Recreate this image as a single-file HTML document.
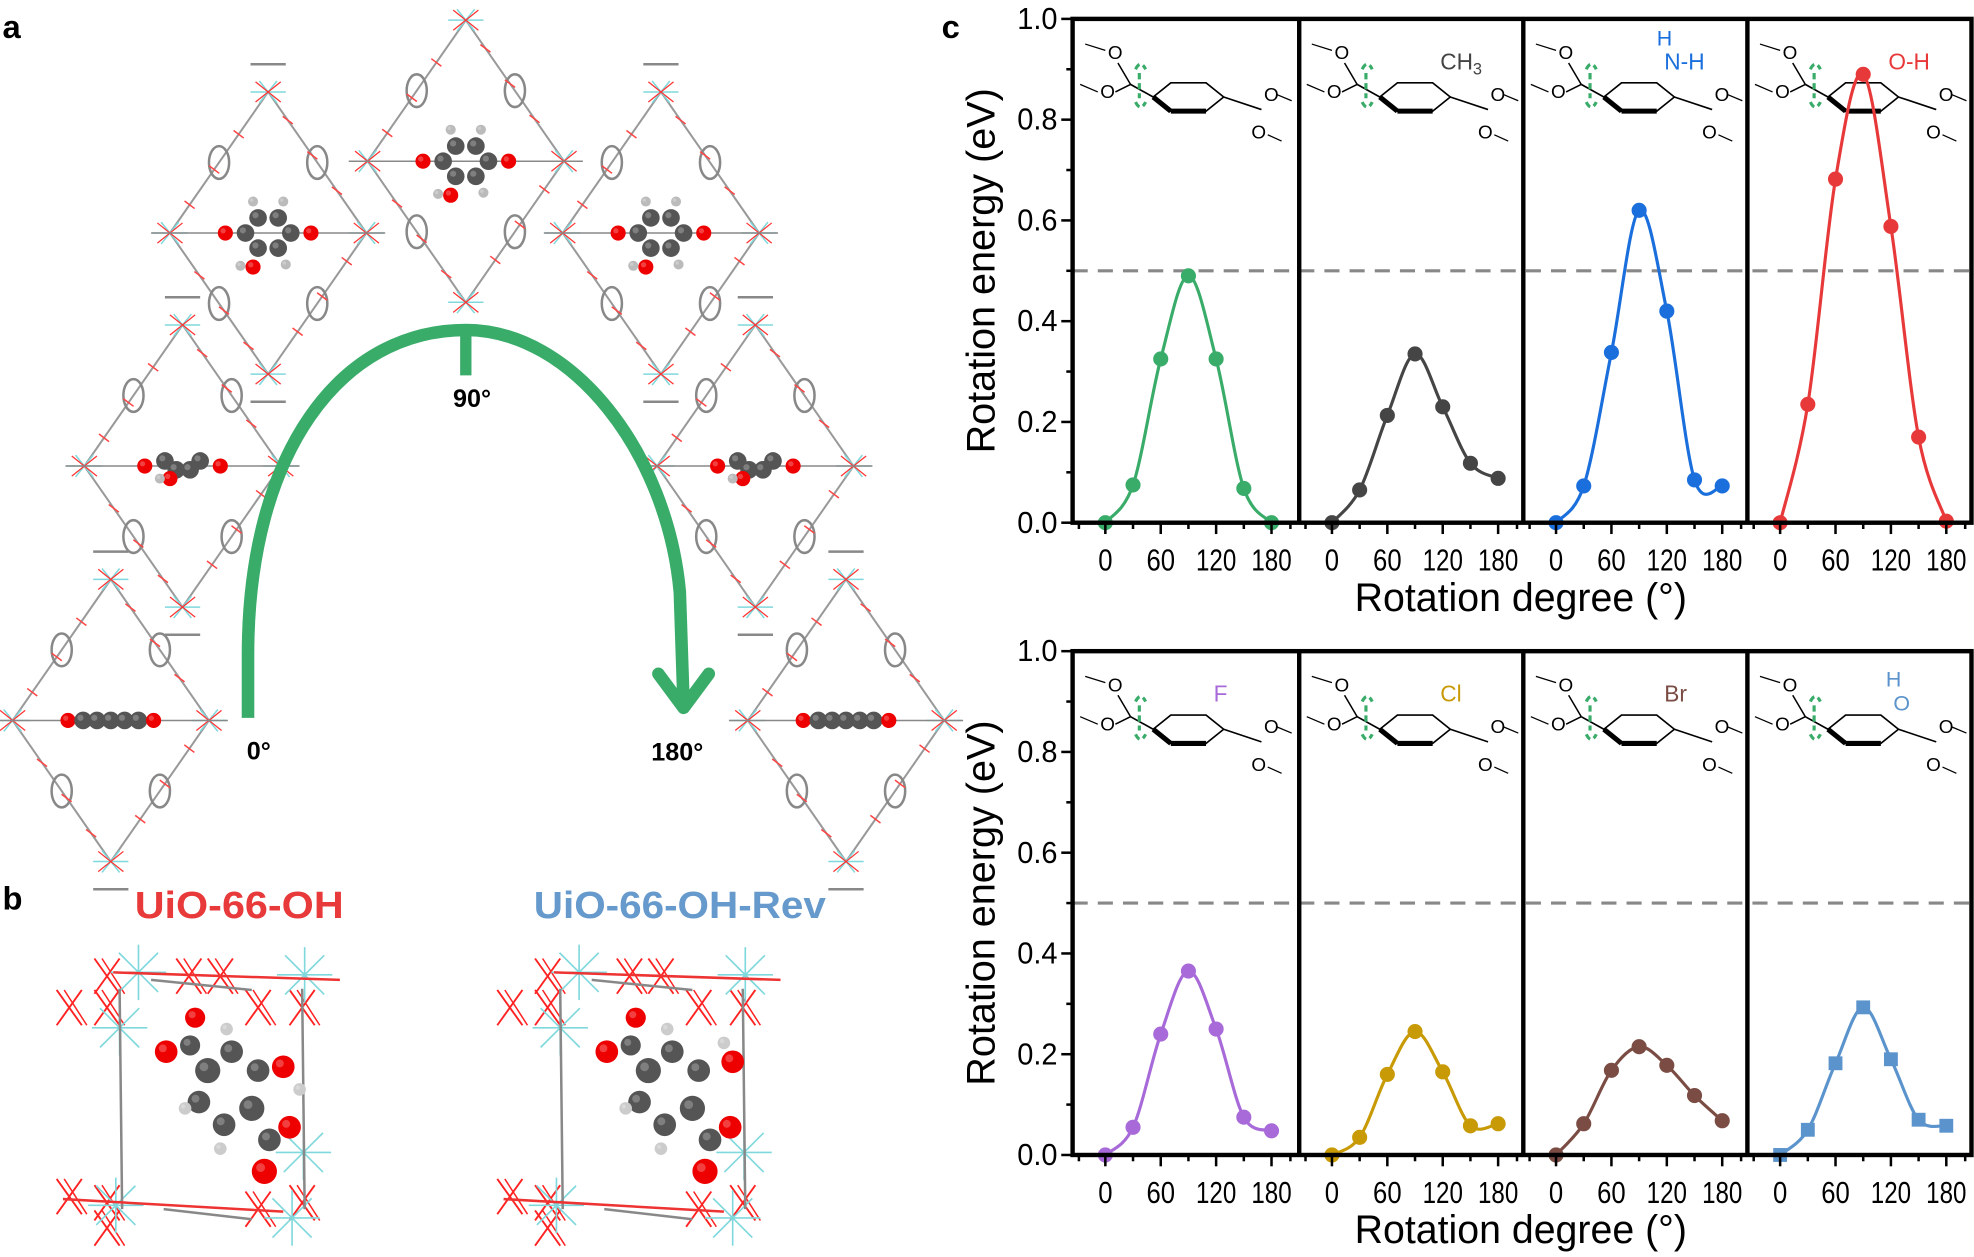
<!DOCTYPE html>
<html><head><meta charset="utf-8"><style>
html,body{margin:0;padding:0;background:#fff;}
svg{display:block;}
text{font-family:"Liberation Sans",Arial,sans-serif;}
</style></head><body>
<svg id="s" width="1974" height="1257" viewBox="0 0 1568 998" preserveAspectRatio="none" xmlns="http://www.w3.org/2000/svg"></svg>
<script>
const S=document.getElementById('s');let h='';
function ln(x1,y1,x2,y2,c,w,extra){h+=`<line x1="${x1}" y1="${y1}" x2="${x2}" y2="${y2}" stroke="${c}" stroke-width="${w}" ${extra||''}/>`;}
function tx(x,y,t,sz,c,anc,extra){h+=`<text x="${x}" y="${y}" font-size="${sz}" fill="${c}" text-anchor="${anc||'start'}" ${extra||''}>${t}</text>`;}
function ball(x,y,r,c){h+=`<circle cx="${x}" cy="${y}" r="${r}" fill="${c}"/><circle cx="${x-r*0.3}" cy="${y-r*0.3}" r="${r*0.35}" fill="#fff" opacity="0.25"/>`;}
tx(2,30,'a',26,'#000','start','font-weight="bold"');
tx(2,722,'b',26,'#000','start','font-weight="bold"');
tx(748,30,'c',26,'#000','start','font-weight="bold"');
function node(x,y){for(let a=0;a<6;a++){const t=a*Math.PI/3;ln(x,y,x+14*Math.cos(t),y+10*Math.sin(t),'#7fd8dc',1.2);}
 ln(x-10,y-8,x+10,y+8,'#f33',1);ln(x-10,y+8,x+10,y-8,'#f33',1);}
function fw(cx,cy,mol){const w=78,hh=112;
 const P=[[cx,cy-hh],[cx+w,cy],[cx,cy+hh],[cx-w,cy]];
 for(let i=0;i<4;i++){const a=P[i],b=P[(i+1)%4];ln(a[0],a[1],b[0],b[1],'#999',1.6);
  const mx=(a[0]+b[0])/2,my=(a[1]+b[1])/2;
  h+=`<ellipse cx="${mx}" cy="${my}" rx="8" ry="13" fill="none" stroke="#888" stroke-width="2"/>`;
  for(let k=0.2;k<0.9;k+=0.25){const px=a[0]+(b[0]-a[0])*k,py=a[1]+(b[1]-a[1])*k;ln(px-4,py-3,px+4,py+3,'#f44',1.2);}}
 P.forEach(p=>node(p[0],p[1]));
 ln(cx-w-15,cy,cx+w+15,cy,'#888',1.2);
 ln(cx-14,cy-hh-22,cx+14,cy-hh-22,'#888',2);ln(cx-14,cy+hh+22,cx+14,cy+hh+22,'#888',2);
 if(mol==0){ball(cx-34,cy,6,'#e00');for(let i=-2;i<=2;i++)ball(cx+i*11,cy,7,'#555');ball(cx+34,cy,6,'#e00');}
 else if(mol==1){ball(cx-30,cy,6,'#e00');ball(cx+30,cy,6,'#e00');ball(cx-14,cy-4,7,'#555');ball(cx+14,cy-4,7,'#555');ball(cx-5,cy+3,7,'#555');ball(cx+6,cy+3,7,'#555');ball(cx-10,cy+10,6,'#e00');ball(cx-18,cy+10,4,'#bbb');}
 else{ball(cx-34,cy,6,'#e00');ball(cx+34,cy,6,'#e00');ball(cx-18,cy,7,'#555');ball(cx+18,cy,7,'#555');ball(cx-8,cy-12,7,'#555');ball(cx+8,cy-12,7,'#555');ball(cx-8,cy+12,7,'#555');ball(cx+8,cy+12,7,'#555');ball(cx-12,cy+27,6,'#e00');ball(cx+14,cy+25,4,'#bbb');ball(cx-12,cy-25,4,'#bbb');ball(cx+12,cy-25,4,'#bbb');ball(cx-22,cy+26,4,'#bbb');}
}
fw(213,185,2);fw(370,128,2);fw(525,185,2);fw(145,370,1);fw(600,370,1);fw(88,572,0);fw(672,572,0);
h+=`<path d="M197,570 L197,520 C197,360 270,262 370,262 C455,262 530,360 540,470 L543,560" fill="none" stroke="#3aac6a" stroke-width="10"/>`;
h+=`<polyline points="523,535 543,562 563,535" fill="none" stroke="#3aac6a" stroke-width="10" stroke-linejoin="round" stroke-linecap="round"/>`;
ln(370,262,370,298,'#3aac6a',9);
tx(196,603,'0°',20,'#000','start','font-weight="bold"');
tx(375,323,'90°',20,'#000','middle','font-weight="bold"');
tx(538,604,'180°',20,'#000','middle','font-weight="bold"');
tx(190,729,'UiO-66-OH',30,'#e83a3a','middle','font-weight="bold" textLength="166" lengthAdjust="spacingAndGlyphs"');
tx(540,729,'UiO-66-OH-Rev',30,'#6699cc','middle','font-weight="bold" textLength="232" lengthAdjust="spacingAndGlyphs"');
function bstruct(ox,rev){
 const X=[[85,775],[150,775],[175,775],[55,800],[85,800],[205,800],[240,800],[55,950],[85,955],[205,960],[240,955],[85,975]];
 X.forEach(p=>{const x=p[0]+ox,y=p[1];ln(x-10,y-14,x+10,y+14,'#f22',1.5);ln(x-10,y+14,x+10,y-14,'#f22',1.5);ln(x-4,y-14,x+14,y+14,'#f22',1.2);});
 [[110,772],[242,774],[95,816],[241,915],[92,957],[232,967]].forEach(p=>{const x=p[0]+ox,y=p[1];for(let a=0;a<8;a++){const t=a*Math.PI/4;ln(x,y,x+22*Math.cos(t),y+22*Math.sin(t),'#7fd8dc',1.3);}});
 ln(95+ox,785,97+ox,960,'#888',2);ln(240+ox,785,242+ox,960,'#888',2);
 ln(90+ox,772,270+ox,778,'#e33',2);ln(50+ox,952,225+ox,962,'#e33',2);
 ln(120+ox,778,200+ox,786,'#888',2);ln(130+ox,960,200+ox,968,'#888',2);
 const o=ox;
 ball(155+o,808,8,'#e00');ball(132+o,835,9,'#e00');ball(151+o,830,8,'#555');
 ball(165+o,850,10,'#555');ball(184+o,835,9,'#555');ball(205+o,850,9,'#555');ball(158+o,875,9,'#555');ball(200+o,880,10,'#555');ball(178+o,893,9,'#555');
 ball(214+o,905,9,'#555');ball(230+o,895,9,'#e00');ball(210+o,930,10,'#e00');
 ball(180+o,817,5,'#ccc');ball(147+o,880,5,'#ccc');ball(175+o,912,5,'#ccc');
 if(!rev){ball(225+o,847,9,'#e00');ball(238+o,865,5,'#ccc');}else{ball(232+o,843,9,'#e00');ball(225+o,828,5,'#ccc');}
}
bstruct(0,false);bstruct(350,true);
const data=[
 [[0,.075,.325,.49,.325,.068,0],'#3aac6a','c'],
 [[0,.065,.213,.335,.23,.118,.088],'#454545','c'],
 [[0,.073,.338,.62,.42,.085,.073],'#1a6fdc','c'],
 [[0,.235,.682,.89,.588,.17,.003],'#e8393a','c'],
 [[0,.055,.24,.365,.25,.075,.048],'#a76ad8','c'],
 [[0,.035,.16,.245,.165,.058,.062],'#c89a06','c'],
 [[0,.062,.168,.215,.178,.118,.068],'#7a4c44','c'],
 [[0,.05,.182,.293,.19,.07,.058],'#5b93cc','s']];
const subs=[['',''],['CH<tspan font-size="13" dy="4">3</tspan>','#444'],['N-H','#1a6fdc'],['O-H','#e8393a'],['F','#a76ad8'],['Cl','#c89a06'],['Br','#7a4c44'],['O','#5b93cc']];
const PL=[852,1032,1210,1388],PW=178;
function chart(top,row){
 const bot=top+400;const Y=v=>bot-v*400;
 ln(852,Y(0.5),1566,Y(0.5),'#888',2.5,'stroke-dasharray="12,8"');
 for(let p=0;p<4;p++){const L=PL[p];const X=d=>L+26+d*132/180;
  const [vals,col,mk]=data[row*4+p];
  const cx=L+92,cy=top+62;
  let hex=[];for(let i=0;i<6;i++){const t=i*Math.PI/3;hex.push([cx+28*Math.cos(t),cy+13*Math.sin(t)]);}
  h+=`<polygon points="${hex.map(q=>q.join(',')).join(' ')}" fill="none" stroke="#000" stroke-width="1.3"/>`;
  ln(hex[2][0],hex[2][1],hex[3][0],hex[3][1],'#000',4);ln(hex[1][0],hex[1][1],hex[2][0],hex[2][1],'#000',4);
  ln(L+46,top+52,cx-28,cy,'#000',1.3);ln(L+46,top+52,L+36,top+35,'#000',1.2);ln(L+46,top+52,L+34,top+58,'#000',1.2);
  tx(L+28,top+32,'O',15,'#000');tx(L+22,top+63,'O',15,'#000');ln(L+10,top+20,L+26,top+25,'#000',1);ln(L+6,top+52,L+20,top+58,'#000',1);
  ln(cx+28,cy,L+150,top+72,'#000',1.3);tx(L+152,top+65,'O',15,'#000');tx(L+142,top+95,'O',15,'#000');ln(L+162,top+60,L+174,top+65,'#000',1);ln(L+155,top+92,L+166,top+97,'#000',1);
  h+=`<path d="M${L+50},${top+40} q4,-8 8,0 M${L+50},${top+66} q4,8 8,0 M${L+53},${top+43} l0,20" fill="none" stroke="#3aac6a" stroke-width="2.5" stroke-dasharray="5,3"/>`;
  const sb=subs[row*4+p];
  if(sb[0]){if(sb[0]=='N-H'){tx(L+106,top+21,'H',17,sb[1]);}if(row==1&&p==3){tx(L+110,top+28,'H',17,sb[1]);tx(L+116,top+47,'O',17,sb[1]);}else tx(L+112,top+40,sb[0],18,sb[1]);}
  const pts=vals.map((v,i)=>[X(i*30),Y(v)]);
  let d=`M${pts[0][0]},${pts[0][1]}`;
  for(let i=0;i<pts.length-1;i++){const p0=pts[Math.max(i-1,0)],p1=pts[i],p2=pts[i+1],p3=pts[Math.min(i+2,pts.length-1)];
   d+=` C${p1[0]+(p2[0]-p0[0])/6},${p1[1]+(p2[1]-p0[1])/6} ${p2[0]-(p3[0]-p1[0])/6},${p2[1]-(p3[1]-p1[1])/6} ${p2[0]},${p2[1]}`;}
  h+=`<path d="${d}" fill="none" stroke="${col}" stroke-width="2.5"/>`;
  pts.forEach(q=>{if(mk=='s')h+=`<rect x="${q[0]-5.5}" y="${q[1]-5.5}" width="11" height="11" fill="${col}"/>`;else h+=`<circle cx="${q[0]}" cy="${q[1]}" r="6" fill="${col}"/>`;});
  for(let k=0;k<=6;k++){const x=X(k*30);ln(x,bot,x,bot+(k%2?5:9),'#000',2);}
  ln(L+5,bot,L+5,bot+5,'#000',2);ln(L+PW-5,bot,L+PW-5,bot+5,'#000',2);
  [[0,'0'],[60,'60'],[120,'120'],[180,'180']].forEach(t=>tx(X(t[0]),bot+38,t[1],24,'#000','middle',t[1].length==3?'textLength="32" lengthAdjust="spacingAndGlyphs"':'transform="translate('+X(t[0])*0.15+',0) scale(0.85,1)"'));
 }
 h+=`<rect x="852" y="${top}" width="714" height="400" fill="none" stroke="#000" stroke-width="3.5"/>`;
 for(let p=1;p<4;p++)ln(PL[p],top,PL[p],bot,'#000',3.5);
 for(let k=0;k<=10;k++){const y=Y(k/10);ln(852,y,852-(k%2?5:9),y,'#000',2);if(k%2==0)tx(840,y+8,(k/10).toFixed(1),24,'#000','end','textLength="32" lengthAdjust="spacingAndGlyphs"');}
 tx(1208,bot+70,'Rotation degree (°)',32,'#000','middle','textLength="264" lengthAdjust="spacingAndGlyphs"');
 tx(0,0,'Rotation energy (eV)',32,'#000','middle',`textLength="290" lengthAdjust="spacingAndGlyphs" transform="translate(790,${top+200}) rotate(-90)"`);
}
chart(15,0);chart(517,1);
S.innerHTML=h;
</script>
</body></html>
